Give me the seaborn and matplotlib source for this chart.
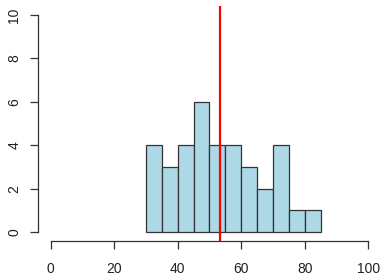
import matplotlib
matplotlib.use("Agg")
import matplotlib.pyplot as plt
import seaborn as sns

# histogram bins (width 5) and counts
bin_edges = [30, 35, 40, 45, 50, 55, 60, 65, 70, 75, 80, 85]
counts = [4, 3, 4, 6, 4, 4, 3, 2, 4, 1, 1]
mean_line = 53.3

x_ticks = [0, 20, 40, 60, 80, 100]
y_ticks = [0, 2, 4, 6, 8, 10]

sns.set_style("white")
plt.rcParams['font.family'] = ['Liberation Sans', 'DejaVu Sans']

centers = [(a + b) / 2 for a, b in zip(bin_edges[:-1], bin_edges[1:])]

fig = plt.figure(figsize=(3.84, 2.78), dpi=100)
ax = fig.add_axes([38 / 384, (278 - 240.7) / 278, (381 - 38) / 384, (240.7 - 6.3) / 278])

sns.histplot(x=centers, weights=counts, bins=bin_edges, ax=ax,
             color="#ADD8E6", edgecolor="#333333", linewidth=0.9, alpha=1)
ax.axvline(mean_line, color="red", linewidth=1.6)

ax.set_xlim(-4, 104)
ax.set_ylim(-0.4, 10.4)
ax.set_xticks(x_ticks)
ax.set_yticks(y_ticks)
ax.set_yticklabels([str(v) for v in y_ticks], rotation=90, va="center")
ax.set_xlabel("")
ax.set_ylabel("")

for side in ["top", "right"]:
    ax.spines[side].set_visible(False)
ax.spines["left"].set_bounds(0, 10)
ax.spines["bottom"].set_bounds(0, 100)
for side in ["left", "bottom"]:
    ax.spines[side].set_color("#333333")
    ax.spines[side].set_linewidth(0.9)
ax.tick_params(axis="both", direction="out", length=6, width=0.9,
               color="#333333", labelsize=10, labelcolor="#222222",
               left=True, bottom=True)
ax.tick_params(axis="x", pad=9)
ax.tick_params(axis="y", pad=6)

fig.savefig("out.png", dpi=100)
